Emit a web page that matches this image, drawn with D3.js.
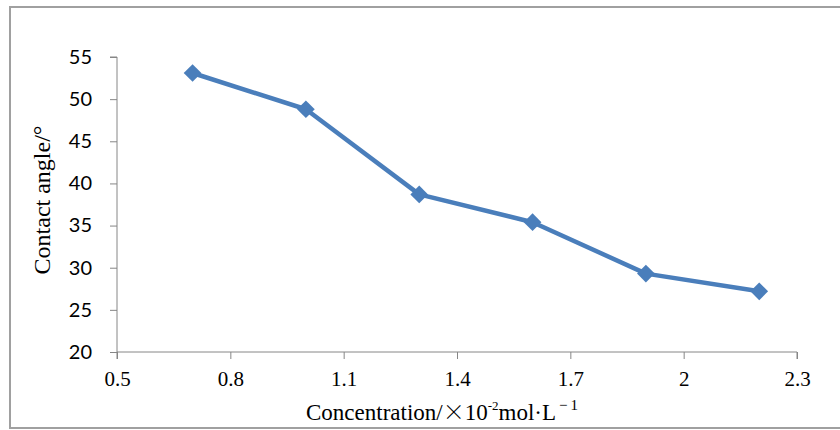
<!DOCTYPE html>
<html><head><meta charset="utf-8">
<script src="https://cdn.jsdelivr.net/npm/d3@7"></script>
<style>body{margin:0;background:#fff}svg{display:block}</style>
</head><body>
<script>
const concentration = [0.7, 1.0, 1.3, 1.6, 1.9, 2.2];
const contactAngle = [53.1, 48.8, 38.7, 35.4, 29.3, 27.2];
const xTicks = [0.5, 0.8, 1.1, 1.4, 1.7, 2, 2.3];
const yTicks = [20, 25, 30, 35, 40, 45, 50, 55];
const yTitle = "Contact angle/\u00B0";

const W = 840, H = 430;
const svg = d3.select("body").append("svg").attr("width", W).attr("height", H);

// outer frame
svg.append("rect").attr("x", 10).attr("y", 7).attr("width", 840).attr("height", 421)
  .attr("fill", "none").attr("stroke", "#a0a0a0").attr("stroke-width", 2);

const x = d3.scaleLinear().domain([0.5, 2.3]).range([117, 797]);
const y = d3.scaleLinear().domain([20, 55]).range([352, 57]);
const axisColor = "#868686";

// y axis
const gy = svg.append("g").attr("transform", "translate(117,0)")
  .call(d3.axisLeft(y).tickValues(yTicks).tickSize(7).tickPadding(18).tickFormat(d3.format("d")));
gy.select(".domain").attr("stroke", axisColor).attr("d", `M-7,${y(55)}H0V${y(20)}`);
gy.selectAll(".tick line").attr("stroke", axisColor);
gy.selectAll(".tick text").attr("font-family", "Lato, 'Open Sans', sans-serif")
  .attr("font-size", 20).attr("fill", "#000");

// x axis
const gx = svg.append("g").attr("transform", "translate(0,352)")
  .call(d3.axisBottom(x).tickValues(xTicks).tickSize(7).tickPadding(5).tickFormat(d => String(d)));
gx.select(".domain").attr("stroke", axisColor).attr("d", `M${x(0.5)},7V0H${x(2.3)}V7`);
gx.selectAll(".tick line").attr("stroke", axisColor);
gx.selectAll(".tick text").attr("font-family", "'Liberation Serif', 'Times New Roman', serif")
  .attr("font-size", 21).attr("fill", "#000").attr("dy", "1.05em");

// x title
const xt = svg.append("text").attr("x", 306).attr("y", 420)
  .attr("font-family", "'Liberation Serif', 'Times New Roman', serif").attr("font-size", 23).attr("fill", "#000");
xt.append("tspan").text("Concentration/");
xt.append("tspan").attr("font-family", "'Noto Sans CJK SC', sans-serif").attr("font-size", 22).attr("font-weight", 300).text("\u00D7");
xt.append("tspan").text("10");
xt.append("tspan").attr("font-size", 13).attr("dy", -10).text("-2");
xt.append("tspan").attr("dy", 10).text("mol\u00B7L");
xt.append("tspan").attr("font-size", 15).attr("dy", -10).text("\u2009\u2212\u2009\u00B9".replace("\u00B9", "1"));

// y title
svg.append("text").attr("transform", "translate(50,200) rotate(-90)")
  .attr("text-anchor", "middle")
  .attr("font-family", "'Liberation Serif', 'Times New Roman', serif").attr("font-size", 24).attr("fill", "#000")
  .text(yTitle);

// line
const data = concentration.map((c, i) => [c, contactAngle[i]]);
svg.append("path").datum(data)
  .attr("fill", "none").attr("stroke", "#4a7ebb").attr("stroke-width", 4.5).attr("stroke-linejoin", "round")
  .attr("d", d3.line().x(d => x(d[0])).y(d => y(d[1])));

svg.selectAll("path.marker").data(data).enter().append("path").attr("class", "marker")
  .attr("transform", d => `translate(${x(d[0])},${y(d[1])})`)
  .attr("d", d3.symbol().type(d3.symbolDiamond2).size(200))
  .attr("fill", "#4a7ebb");
</script>
</body></html>
